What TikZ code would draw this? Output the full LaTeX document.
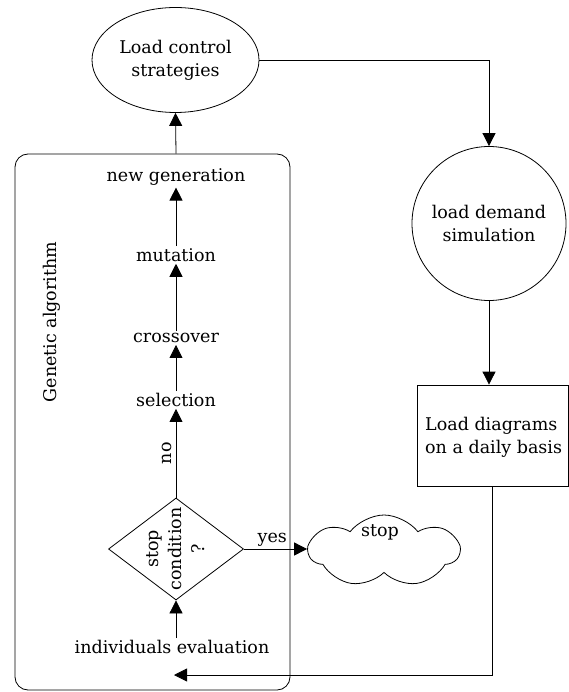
\documentclass[tikz,border=0pt]{standalone}
\usepackage{fontspec}
\setmainfont{DejaVu Serif}
\usetikzlibrary{shapes.geometric,shapes.symbols,arrows.meta,calc}
\begin{document}
\begin{tikzpicture}[x=1pt,y=-1pt,
  every node/.style={font=\fontsize{17.5}{23}\selectfont},
  arr/.style={draw,line width=0.8pt,-{Triangle[length=13pt,width=13pt]}},
  shp/.style={draw,line width=0.8pt},
  txt/.style={inner sep=2pt,align=center}]
\useasboundingbox (0,0) rectangle (569,692);
% container
\node[shp,rounded corners=13pt,minimum width=275pt,minimum height=536pt,inner sep=0] (ga) at (152.5,422) {};
\node[txt,rotate=90] (galab) at (52,322) {Genetic algorithm};
% main nodes
\node[shp,ellipse,minimum width=167pt,minimum height=105pt,inner sep=0,align=center] (lcs) at (175.5,60) {Load control\\strategies};
\node[shp,circle,minimum size=154pt,inner sep=0,align=center] (lds) at (489,223.5) {load demand\\simulation};
\node[shp,rectangle,minimum width=151pt,minimum height=101pt,inner sep=0,align=left] (ldd) at (492.5,435.5) {};
\node[txt,align=left,anchor=west] (lddtxt) at (423,437) {Load diagrams\\on a daily basis};
% GA steps
\node[txt] (ng) at (176,177) {new generation};
\node[txt] (mut) at (176,255) {mutation};
\node[txt] (cro) at (176,338) {crossover};
\node[txt] (sel) at (176,400) {selection};
\node[shp,diamond,minimum width=135pt,minimum height=102pt,inner sep=0] (dec) at (176,549) {};
\node[txt,rotate=90] (dectxt) at (dec.center) {stop\\condition\\?};
\node[txt] (ie) at (172,647) {individuals evaluation};
\node[shp,cloud,cloud puffs=7,cloud puff arc=105,aspect=2,minimum width=150pt,minimum height=72pt,inner sep=0] (stop) at (384,551) {};
\node[txt] (stoptxt) at (380,532) {stop};
\coordinate (fb) at (174,675);
% connectors
\draw[arr] (ng.north |- ga.north) -- (lcs.south);
\draw[arr] (lcs.east) -| (lds.north);
\draw[arr] (lds.south) -- (lds.south |- ldd.north);
\draw[arr] (ldd.south) |- (fb);
\draw[arr] (mut.north) -- (ng.south);
\draw[arr] (cro.north) -- (mut.south);
\draw[arr] (sel.north) -- (cro.south);
\draw[arr] (dec.north) -- node[txt,rotate=90,above=2pt] {no} (sel.south);
\draw[arr] (dec.south |- ie.north) -- (dec.south);
\draw[arr] (dec.east) -- node[txt,above,pos=0.45] {yes} (dec.east -| stop.west);
\end{tikzpicture}
\end{document}
